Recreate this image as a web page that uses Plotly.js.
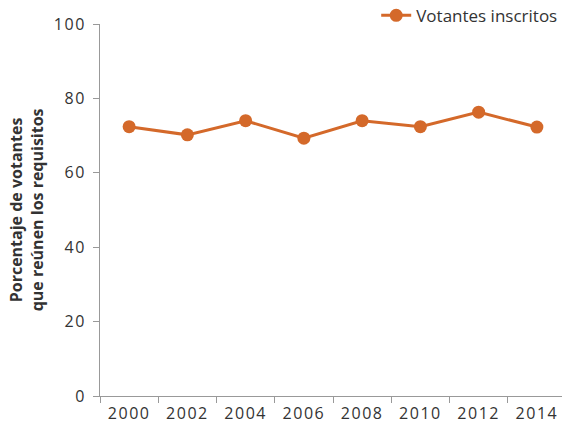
<!DOCTYPE html>
<html><head><meta charset="utf-8">
<script src="https://cdn.plot.ly/plotly-3.0.1.min.js"></script>
<style>
html,body{margin:0;padding:0;overflow:hidden;background:#fff}
#chart .xtick text, #chart .ytick text{letter-spacing:1.5px}
</style>
</head><body><div id="chart"></div>
<script>
const years = ["2000","2002","2004","2006","2008","2010","2012","2014"];
const registered = [72.4, 70.2, 74.0, 69.3, 74.0, 72.4, 76.3, 72.3];
const seriesName = "Votantes inscritos";
const yTicks = [0, 20, 40, 60, 80, 100];
const orange = "#D4692A";
const font = "'Open Sans', sans-serif";

const trace = {
  x: years, y: registered, type: "scatter", mode: "lines+markers",
  name: seriesName,
  line: {color: orange, width: 3},
  marker: {color: orange, size: 13}
};

const layout = {
  width: 566, height: 427,
  margin: {l: 100, r: 0, t: 24, b: 31, autoexpand: false},
  paper_bgcolor: "#fff", plot_bgcolor: "#fff",
  font: {family: font, size: 16, color: "#333"},
  showlegend: true,
  legend: {x: 0.994, xanchor: "right", y: 1.022, yanchor: "middle", font: {size: 17, color: "#333"}, bgcolor: "rgba(0,0,0,0)"},
  xaxis: {
    type: "category", tickson: "boundaries", ticks: "outside", ticklen: 6, tickcolor: "#999",
    showline: true, linecolor: "#999", linewidth: 1, showgrid: false, zeroline: false,
    tickfont: {size: 16, color: "#333"}, range: [-0.5, 7.5], ticklabelstandoff: 3
  },
  yaxis: {
    range: [0, 100], tickvals: yTicks, ticks: "outside", ticklen: 6, tickcolor: "#999",
    showline: true, linecolor: "#999", linewidth: 1, showgrid: false, zeroline: false,
    tickfont: {size: 16, color: "#333"}, ticklabelstandoff: 4
  },
  annotations: [{
    text: "<b>Porcentaje de votantes<br>que reúnen los requisitos</b>",
    textangle: -90, xref: "paper", yref: "paper", x: -0.158, y: 0.5,
    xanchor: "center", yanchor: "middle", showarrow: false,
    font: {size: 16, color: "#333", family: font}
  }]
};

Plotly.newPlot("chart", [trace], layout, {displayModeBar: false, staticPlot: true});
</script></body></html>
